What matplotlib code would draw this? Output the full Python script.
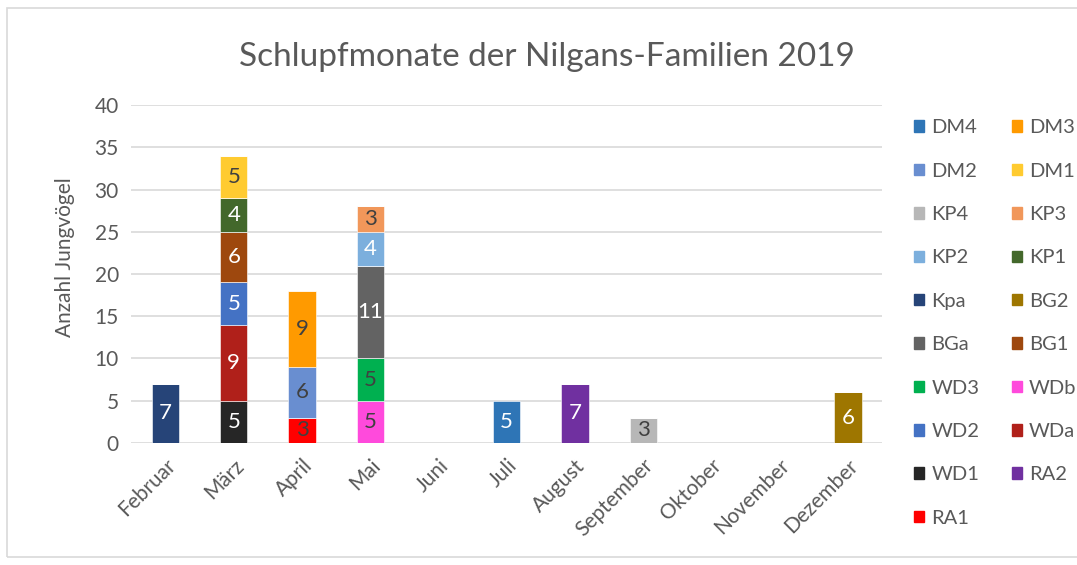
import matplotlib
matplotlib.use('Agg')
import matplotlib.pyplot as plt
import matplotlib.patches as mpatches
import numpy as np

plt.rcParams['font.family'] = ['Lato', 'DejaVu Sans']

months = ['Februar', 'März', 'April', 'Mai', 'Juni', 'Juli', 'August',
          'September', 'Oktober', 'November', 'Dezember']

# series in legend order (Excel row-wise legend)
series = ['DM4', 'DM3', 'DM2', 'DM1', 'KP4', 'KP3', 'KP2', 'KP1', 'Kpa', 'BG2',
          'BGa', 'BG1', 'WD3', 'WDb', 'WD2', 'WDa', 'WD1', 'RA2', 'RA1']

# values per month (0 = no bar)
#          Feb Mär Apr Mai Jun Jul Aug Sep Okt Nov Dez
DM4 = [0, 0, 0, 0, 0, 5, 0, 0, 0, 0, 0]
DM3 = [0, 0, 9, 0, 0, 0, 0, 0, 0, 0, 0]
DM2 = [0, 0, 6, 0, 0, 0, 0, 0, 0, 0, 0]
DM1 = [0, 5, 0, 0, 0, 0, 0, 0, 0, 0, 0]
KP4 = [0, 0, 0, 0, 0, 0, 0, 3, 0, 0, 0]
KP3 = [0, 0, 0, 3, 0, 0, 0, 0, 0, 0, 0]
KP2 = [0, 0, 0, 4, 0, 0, 0, 0, 0, 0, 0]
KP1 = [0, 4, 0, 0, 0, 0, 0, 0, 0, 0, 0]
Kpa = [7, 0, 0, 0, 0, 0, 0, 0, 0, 0, 0]
BG2 = [0, 0, 0, 0, 0, 0, 0, 0, 0, 0, 6]
BGa = [0, 0, 0, 11, 0, 0, 0, 0, 0, 0, 0]
BG1 = [0, 6, 0, 0, 0, 0, 0, 0, 0, 0, 0]
WD3 = [0, 0, 0, 5, 0, 0, 0, 0, 0, 0, 0]
WDb = [0, 0, 0, 5, 0, 0, 0, 0, 0, 0, 0]
WD2 = [0, 5, 0, 0, 0, 0, 0, 0, 0, 0, 0]
WDa = [0, 9, 0, 0, 0, 0, 0, 0, 0, 0, 0]
WD1 = [0, 5, 0, 0, 0, 0, 0, 0, 0, 0, 0]
RA2 = [0, 0, 0, 0, 0, 0, 7, 0, 0, 0, 0]
RA1 = [0, 0, 3, 0, 0, 0, 0, 0, 0, 0, 0]

values = {'DM4': DM4, 'DM3': DM3, 'DM2': DM2, 'DM1': DM1, 'KP4': KP4,
          'KP3': KP3, 'KP2': KP2, 'KP1': KP1, 'Kpa': Kpa, 'BG2': BG2,
          'BGa': BGa, 'BG1': BG1, 'WD3': WD3, 'WDb': WDb, 'WD2': WD2,
          'WDa': WDa, 'WD1': WD1, 'RA2': RA2, 'RA1': RA1}

COLORS = {
    'DM4': '#2E75B6', 'DM3': '#FF9A00', 'DM2': '#698ED0', 'DM1': '#FFCB30',
    'KP4': '#B7B7B7', 'KP3': '#F1975A', 'KP2': '#7CAFDD', 'KP1': '#43682B',
    'Kpa': '#264478', 'BG2': '#9E7600', 'BGa': '#636363', 'BG1': '#9E480E',
    'WD3': '#00B050', 'WDb': '#FF4ADC', 'WD2': '#4472C4', 'WDa': '#B0201A',
    'WD1': '#262626', 'RA2': '#7030A0', 'RA1': '#FF0000',
}
DARK_LABEL = {'DM3', 'DM2', 'DM1', 'KP4', 'KP3', 'WD3', 'WDb', 'RA1'}

fig = plt.figure(figsize=(10.77, 5.65), dpi=100)
ax = fig.add_axes([0.122, 0.216, 0.697, 0.598])

# outer chart frame
fig.patches.append(mpatches.Rectangle((7 / 1077, 1 - 557 / 565), 1.0, 549 / 565,
                                      transform=fig.transFigure, fill=False,
                                      edgecolor='#D9D9D9', linewidth=1.2))

x = np.arange(len(months))
bar_w = 0.4
bottom = np.zeros(len(months))
# Excel stacks the last legend entry at the bottom
for name in series[::-1]:
    v = np.array(values[name], dtype=float)
    ax.bar(x, v, bar_w, bottom=bottom, color=COLORS[name], zorder=3,
           edgecolor='white', linewidth=0.4)
    for xi, vi, bi in zip(x, v, bottom):
        if vi > 0:
            ax.text(xi, bi + vi / 2, f'{int(vi)}', ha='center', va='center',
                    fontsize=16, zorder=4,
                    color='#404040' if name in DARK_LABEL else 'white')
    bottom += v

ax.set_xlim(-0.5, len(months) - 0.5)
ax.set_ylim(0, 40)
ax.set_yticks(range(0, 41, 5))
ax.set_xticks(x)
ax.set_xticklabels(months, rotation=45, ha='right', rotation_mode='anchor')
ax.tick_params(axis='both', length=0, labelsize=15, colors='#595959')
ax.tick_params(axis='y', pad=9)
ax.tick_params(axis='x', pad=9)
ax.yaxis.grid(True, color='#D9D9D9', linewidth=1.2, zorder=0)
ax.set_axisbelow(True)
for s in ax.spines.values():
    s.set_visible(False)

ax.set_ylabel('Anzahl Jungvögel', fontsize=15, color='#595959')
ax.yaxis.set_label_coords(-0.075, 0.55)

fig.text(0.508, 0.9, 'Schlupfmonate der Nilgans-Familien 2019', ha='center',
         va='center', fontsize=24, color='#595959')

# legend: Excel fills rows first, matplotlib fills columns first
order = series[0::2] + series[1::2]
handles = [mpatches.Patch(color=COLORS[n], label=n) for n in order]
leg = fig.legend(handles=handles, ncol=2, loc='upper left',
                 bbox_to_anchor=(0.832, 0.821), frameon=False, fontsize=14.5,
                 handlelength=0.5, handleheight=0.5, handletextpad=0.35,
                 labelspacing=1.31, columnspacing=1.6)
for t in leg.get_texts():
    t.set_color('#595959')

fig.savefig('out.png', dpi=100)
